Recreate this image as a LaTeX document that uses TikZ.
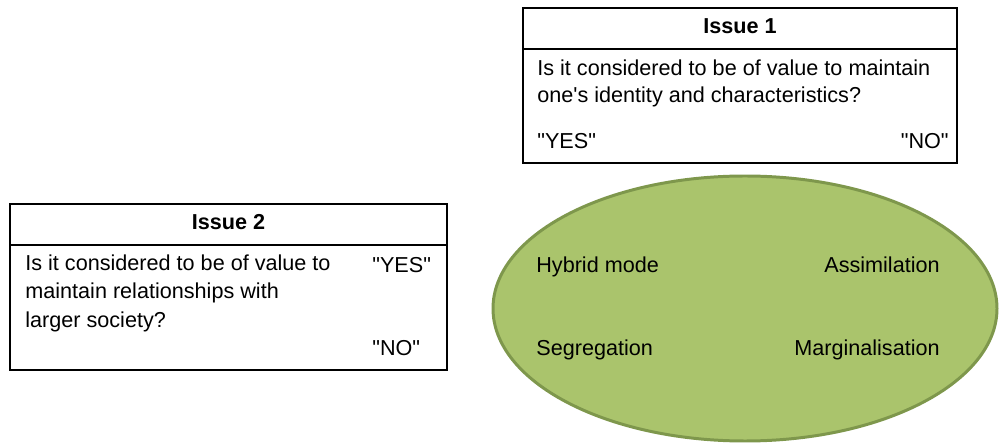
\documentclass[tikz,border=0pt]{standalone}
\usepackage{fontspec}
\setmainfont{Liberation Sans}[Ligatures=TeXOff]
\definecolor{oliveFill}{RGB}{170,196,108}
\definecolor{oliveLine}{RGB}{126,151,76}
\begin{document}
\begin{tikzpicture}[font=\fontsize{12.3}{15}\selectfont,
  txt/.style={inner sep=0pt, text height=8.8pt, text depth=2.6pt},
  boxline/.style={line width=1.1pt}]
  \useasboundingbox (0,0) rectangle (20,8.86);

  % Issue 1 box
  \draw[boxline] (10.46,5.60) rectangle (19.14,8.70);
  \draw[boxline] (10.46,7.88) -- (19.14,7.88); % header line
  \node[txt, font=\fontsize{12.3}{15}\selectfont\bfseries] (issueone) at (14.8,8.29) {Issue 1};
  \node[txt, anchor=west] (qonea) at (10.74,7.46) {Is it considered to be of value to maintain};
  \node[txt, anchor=west] (qoneb) at (10.74,6.92) {one's identity and characteristics?};
  \node[txt, anchor=west] (yesone) at (10.74,6.00) {"YES"};
  \node[txt, anchor=east] (noone) at (18.98,6.00) {"NO"};

  % Issue 2 box
  \draw[boxline] (0.20,1.46) rectangle (8.94,4.78);
  \draw[boxline] (0.20,3.96) -- (8.94,3.96); % header line
  \node[txt, font=\fontsize{12.3}{15}\selectfont\bfseries] (issuetwo) at (4.57,4.37) {Issue 2};
  \node[txt, anchor=west] (qtwoa) at (0.50,3.56) {Is it considered to be of value to};
  \node[txt, anchor=west] (qtwob) at (0.50,3.00) {maintain relationships with};
  \node[txt, anchor=west] (qtwoc) at (0.50,2.42) {larger society?};
  \node[txt, anchor=west] (yestwo) at (7.44,3.52) {"YES"};
  \node[txt, anchor=west] (notwo) at (7.44,1.86) {"NO"};

  % Modes of acculturation
  \filldraw[fill=oliveFill, draw=oliveLine, line width=1.7pt] (14.9,2.69) ellipse (5.04 and 2.65);
  \foreach \name/\y/\lab in {hybrid/3.52/Hybrid mode, segreg/1.86/Segregation} {
    \node[txt, anchor=west] (\name) at (10.72,\y) {\lab};
  }
  \foreach \name/\y/\lab in {assim/3.52/Assimilation, margin/1.86/Marginalisation} {
    \node[txt, anchor=east] (\name) at (18.80,\y) {\lab};
  }
\end{tikzpicture}
\end{document}
